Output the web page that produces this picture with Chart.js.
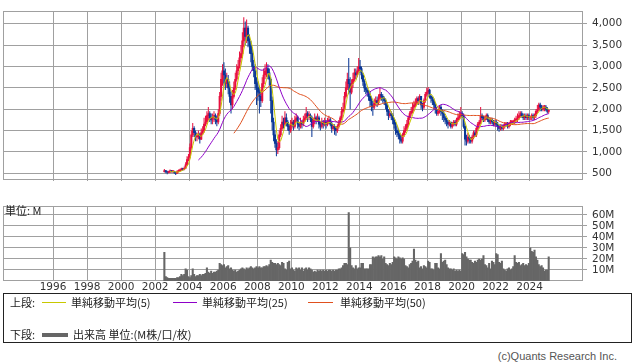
<!DOCTYPE html>
<html><head><meta charset="utf-8">
<script src="https://cdn.jsdelivr.net/npm/chart.js@4.4.1/dist/chart.umd.min.js"></script>
<style>
html,body{margin:0;padding:0;background:#fff;}
#wrap{position:relative;width:638px;height:362px;overflow:hidden;background:#fff;}
canvas{position:absolute;left:0;}
.t{position:absolute;white-space:nowrap;color:#222;font-size:11px;line-height:12px;font-family:"Noto Sans CJK JP",sans-serif;}
.ln{position:absolute;height:1px;}
</style></head>
<body><div id="wrap">
<canvas id="c1" width="638" height="192" style="top:0"></canvas>
<canvas id="c2" width="638" height="100" style="top:195px"></canvas>
<div class="t" style="left:5px;top:204px;">単位: M</div>
<div style="position:absolute;left:3px;top:293px;width:627px;height:48px;border:1px solid #222;"></div>
<div class="t" style="left:10px;top:296px;">上段:</div>
<div class="ln" id="lg5" style="left:42px;top:302px;width:24px;"></div>
<div class="t" style="left:71px;top:296px;">単純移動平均(5)</div>
<div class="ln" id="lg25" style="left:173px;top:302px;width:24px;"></div>
<div class="t" style="left:202px;top:296px;">単純移動平均(25)</div>
<div class="ln" id="lg50" style="left:308px;top:302px;width:25px;"></div>
<div class="t" style="left:340px;top:296px;">単純移動平均(50)</div>
<div class="t" style="left:10px;top:328px;">下段:</div>
<div class="ln" style="left:42px;top:333px;width:26px;height:4px;background:#666;"></div>
<div class="t" style="left:73px;top:328px;">出来高 単位:(M株/口/枚)</div>
<div class="t" style="right:21px;top:350px;color:#555;font-family:'Liberation Sans',sans-serif;">(c)Quants Research Inc.</div>
</div>
<script>
// ---- data (monthly, from 2002-07) ----
const startYear = 2002, startMonth = 7;
const open = [
 540,560,540,520,530,560,
 540,550,520,500,540,560,580,600,590,620,700,820,
 880,1100,1400,1550,1450,1350,1350,1400,1300,1450,1500,1650,
 1700,1850,1900,1800,1750,1800,1850,1750,1700,1900,2300,2700,
 2900,2800,2600,2700,2500,2300,2100,2300,2500,2700,2900,3000,
 3200,3300,3600,3900,3700,3900,3600,3500,3300,3000,2900,2600,
 2500,2400,2300,2200,2600,2800,2900,2950,2850,2700,2200,1700,
 1400,1200,1050,1100,1400,1550,1700,1650,1800,1700,1600,1500,
 1650,1700,1600,1750,1800,1650,1600,1700,1650,1750,1800,1900,
 1850,1850,1800,1600,1750,1800,1750,1800,1650,1600,1700,1650,
 1700,1650,1700,1750,1650,1550,1600,1550,1500,1600,1700,1800,
 1950,2000,2300,2500,2700,2600,2400,2600,2700,2850,2800,2900,
 3000,2950,2800,2650,2500,2450,2400,2300,2200,2100,2050,2150,
 2200,2150,2250,2350,2300,2250,2200,2100,1950,1850,1900,1850,
 1750,1650,1500,1450,1400,1300,1250,1400,1500,1550,1650,1800,
 1900,1950,2050,2100,2150,2250,2200,2300,2100,2050,2200,2350,
 2400,2450,2300,2250,2200,2100,2000,1900,1950,2050,1950,1900,
 1800,1750,1700,1650,1700,1600,1650,1700,1650,1750,1800,1850,
 1900,1850,1600,1300,1250,1350,1300,1250,1350,1450,1400,1550,
 1650,1700,1850,1800,1750,1800,1850,1750,1700,1750,1700,1650,
 1700,1650,1600,1550,1600,1550,1600,1650,1650,1600,1650,1700,
 1700,1700,1750,1750,1800,1850,1900,1850,1800,1850,1800,1850,
 1800,1800,1850,1800,1850,1950,2000,2100,2050,2000,2050,2050,
 2000,1950
];
const high = [
 600,580,560,560,590,580,
 580,560,540,570,590,610,630,630,660,760,900,950,
 1200,1500,1680,1600,1500,1450,1500,1450,1550,1600,1800,1850,
 1950,2050,1950,1900,1900,1950,1900,1850,2000,2400,2850,3050,
 3100,2950,2850,2800,2650,2400,2450,2650,2850,3050,3150,3350,
 3500,3800,4150,4050,4100,3950,3750,3600,3400,3150,3050,2750,
 2650,2550,2450,2750,2950,3050,3100,3050,2950,2750,2300,1800,
 1500,1300,1250,1500,1650,1850,1800,1950,1900,1750,1650,1750,
 1800,1750,1850,1900,1850,1700,1800,1750,1850,1900,2050,1950,
 1950,1900,1850,1800,1900,1850,1900,1850,1700,1800,1750,1800,
 1750,1800,1850,1800,1700,1650,1650,1600,1650,1750,1850,2050,
 2150,2400,2650,2850,3200,2750,2700,2850,2950,2950,3000,3200,
 3150,3000,2850,2700,2600,2500,2450,2400,2300,2200,2250,2300,
 2300,2350,2500,2400,2350,2300,2250,2150,2000,2000,1950,1900,
 1800,1700,1600,1550,1450,1400,1450,1600,1650,1750,1850,1950,
 2050,2150,2200,2250,2300,2300,2350,2300,2150,2250,2400,2500,
 2520,2480,2350,2300,2250,2150,2050,2000,2100,2100,2000,1950,
 1850,1800,1750,1750,1700,1700,1750,1750,1800,1900,1950,2050,
 1950,1900,1650,1400,1450,1400,1350,1400,1500,1500,1600,1700,
 1750,2050,1900,1850,1850,1900,1900,1800,1800,1800,1750,1750,
 1750,1700,1650,1650,1650,1650,1700,1700,1700,1700,1750,1750,
 1750,1800,1850,1900,1950,1950,1950,1900,1900,1900,1900,1900,
 1850,1900,1900,1900,2000,2100,2150,2150,2100,2100,2100,2100,
 2050,2000
];
const low = [
 520,500,480,500,510,520,
 510,490,460,490,520,540,560,560,570,600,680,780,
 850,1050,1350,1350,1250,1250,1300,1200,1280,1400,1450,1600,
 1650,1750,1700,1650,1650,1700,1650,1600,1650,1850,2200,2550,
 2600,2450,2500,2350,2150,1900,2000,2250,2450,2650,2800,2950,
 3100,3200,3450,3500,3550,3450,3300,3100,2900,2750,2450,2100,
 2200,1900,2050,2150,2500,2700,2750,2700,2550,1900,1500,1250,
 1100,900,950,1050,1350,1500,1550,1600,1600,1500,1400,1450,
 1550,1500,1550,1700,1550,1500,1550,1550,1600,1700,1750,1700,
 1750,1700,1350,1550,1650,1650,1700,1550,1500,1550,1550,1600,
 1550,1600,1650,1600,1450,1500,1400,1380,1450,1550,1650,1750,
 1900,1950,2250,2450,2350,2000,2350,2500,2650,2700,2750,2850,
 2850,2700,2550,2400,2350,2300,2200,2050,1950,1850,2000,2100,
 2050,2100,2200,2200,2150,2100,2000,1850,1750,1800,1750,1650,
 1550,1400,1350,1300,1200,1200,1200,1350,1450,1500,1600,1750,
 1850,1900,1950,2050,2100,2100,2150,2000,1950,2000,2150,2300,
 2350,2250,2150,2100,2000,1900,1850,1850,1900,1850,1750,1700,
 1650,1600,1550,1600,1550,1550,1600,1600,1600,1700,1750,1800,
 1800,1550,1150,1150,1200,1200,1200,1200,1300,1350,1350,1500,
 1600,1650,1750,1700,1700,1750,1700,1650,1650,1650,1600,1600,
 1600,1500,1470,1500,1500,1500,1550,1600,1550,1550,1600,1650,
 1650,1650,1700,1700,1750,1800,1800,1750,1750,1750,1750,1750,
 1750,1750,1750,1750,1800,1900,1950,1950,1950,1950,1950,1950,
 1900,1900
];
const close = [
 560,540,520,530,560,540,
 550,520,500,540,560,580,600,590,620,700,820,880,
 1100,1400,1550,1450,1350,1350,1400,1300,1450,1500,1650,1700,
 1850,1900,1800,1750,1800,1850,1750,1700,1900,2300,2700,2900,
 2800,2600,2700,2500,2300,2100,2300,2500,2700,2900,3000,3200,
 3300,3600,3900,3700,3900,3600,3500,3300,3000,2900,2600,2500,
 2400,2300,2200,2600,2800,2900,2950,2850,2700,2200,1700,1400,
 1200,1050,1100,1400,1550,1700,1650,1800,1700,1600,1500,1650,
 1700,1600,1750,1800,1650,1600,1700,1650,1750,1800,1900,1850,
 1850,1800,1600,1750,1800,1750,1800,1650,1600,1700,1650,1700,
 1650,1700,1750,1650,1550,1600,1550,1500,1600,1700,1800,1950,
 2000,2300,2500,2700,2600,2400,2600,2700,2850,2800,2900,3000,
 2950,2800,2650,2500,2450,2400,2300,2200,2100,2050,2150,2200,
 2150,2250,2350,2300,2250,2200,2100,1950,1850,1900,1850,1750,
 1650,1500,1450,1400,1300,1250,1400,1500,1550,1650,1800,1900,
 1950,2050,2100,2150,2250,2200,2300,2100,2050,2200,2350,2400,
 2450,2300,2250,2200,2100,2000,1900,1950,2050,1950,1900,1800,
 1750,1700,1650,1700,1600,1650,1700,1650,1750,1800,1850,1900,
 1850,1600,1300,1250,1350,1300,1250,1350,1450,1400,1550,1650,
 1700,1850,1800,1750,1800,1850,1750,1700,1750,1700,1650,1700,
 1650,1600,1550,1600,1550,1600,1650,1650,1600,1650,1700,1700,
 1700,1750,1750,1800,1850,1900,1850,1800,1850,1800,1850,1800,
 1800,1850,1800,1850,1950,2000,2100,2050,2000,2050,2050,2000,
 1950,1950
];
const volume = [
 26,4,3,2.5,2.5,2.5,
 2.5,2.5,2.5,3,3,4,6,5,6,11,10,4,
 3,5,11,6,4,5,5,6,5,6,6,7,
 12,8,7,9,7,8,8,9,10,16,15,14,
 15,12,13,14,11,12,10,9,10,8,9,10,
 11,12,11,10,12,11,12,13,12,11,12,13,
 12,13,12,12,13,13,14,13,15,19,17,16,
 16,15,16,15,14,17,16,11,10,17,18,11,
 12,10,9,12,11,12,10,12,9,11,12,10,
 12,11,10,8,9,8,10,9,10,9,10,9,
 10,9,10,10,9,10,9,10,10,11,11,12,
 14,16,16,15,62,30,14,12,11,14,11,12,
 12,16,16,11,11,11,11,15,15,22,21,22,
 22,23,22,23,20,22,16,15,14,16,15,17,
 22,21,20,22,21,20,21,20,14,13,12,15,
 16,18,29,19,17,18,12,13,11,14,13,12,
 18,17,11,11,10,16,16,12,11,25,17,18,
 19,15,12,11,11,10,11,9,10,9,10,9,
 25,24,26,22,20,19,19,17,16,18,17,19,
 20,19,20,23,15,14,12,16,11,18,17,15,
 25,24,17,16,18,11,10,9,11,12,10,11,
 13,23,17,16,17,14,15,16,14,15,14,16,
 30,27,26,28,22,19,15,13,14,12,9,10,
 10,22
];
const yearTicks = [1996,1998,2000,2002,2004,2006,2008,2010,2012,2014,2016,2018,2020,2022,2024];
const priceTicks = [500,1000,1500,2000,2500,3000,3500,4000];
const volumeTicks = [10,20,30,40,50,60];
const maPeriods = [5,25,50];
const maNames = ['単純移動平均(5)','単純移動平均(25)','単純移動平均(50)'];

// ---- styles ----
const UP = '#e8103f', DOWN = '#0a3796';
const MA_COLORS = ['#c8c800','#8e00c8','#e0501e'];
const GRID = '#a0a0a0';
const AXIS_FONT = {family:'DejaVu Sans', size:10.5};
const X_MIN = 1993.06, X_MAX = 2027.14;

document.getElementById('lg5').style.background = MA_COLORS[0];
document.getElementById('lg25').style.background = MA_COLORS[1];
document.getElementById('lg50').style.background = MA_COLORS[2];

const months = close.map((_, i) => {
  const m = startMonth - 1 + i;
  return (startYear + Math.floor(m / 12)) + '-' + String(m % 12 + 1).padStart(2, '0');
});
const xPos = months.map(s => { const [y, m] = s.split('-').map(Number); return y + (m - 0.5) / 12; });
function sma(n) {
  return close.map((_, i) => {
    if (i < n - 1) return null;
    let s = 0; for (let k = i - n + 1; k <= i; k++) s += close[k];
    return s / n;
  });
}
const candleColor = ctx => (close[ctx.dataIndex] >= open[ctx.dataIndex] ? UP : DOWN);

const frame = {
  id: 'frame',
  beforeDatasetsDraw(chart) {
    const {ctx, chartArea: a} = chart;
    ctx.save();
    ctx.strokeStyle = GRID; ctx.lineWidth = 1;
    ctx.strokeRect(Math.round(a.left) + 0.5, Math.round(a.top) + 0.5,
      Math.round(a.right - a.left) - 1, Math.round(a.bottom - a.top) - 1);
    ctx.restore();
  }
};

function xScale(showLabels, h) {
  return {
    type: 'linear', min: X_MIN, max: X_MAX, offset: false,
    afterBuildTicks: s => { s.ticks = yearTicks.map(v => ({value: v})); },
    afterFit: s => { s.height = h; },
    grid: {color: GRID, drawTicks: false, offset: false},
    border: {display: false},
    ticks: {display: showLabels, autoSkip: false, maxRotation: 0, padding: 0,
      font: AXIS_FONT, color: '#333', callback: v => String(v)}
  };
}
function yScale(min, max, ticks, fmt) {
  return {
    type: 'linear', position: 'right', min, max,
    afterBuildTicks: s => { s.ticks = ticks.map(v => ({value: v})); },
    afterFit: s => { s.width = 55; },
    grid: {color: GRID, tickLength: 4, drawTicks: true},
    border: {display: false},
    ticks: {padding: 5, autoSkip: false, font: AXIS_FONT, color: '#333', callback: fmt}
  };
}

const common = {
  responsive: false, animation: false, events: [],
  plugins: {legend: {display: false}, tooltip: {enabled: false}}
};

const maSets = maPeriods.map((n, k) => {
  const v = sma(n);
  return {
    type: 'line', label: maNames[k], order: 0,
    data: xPos.map((x, i) => ({x, y: v[i]})),
    borderColor: MA_COLORS[k], borderWidth: 1, pointRadius: 0, spanGaps: false, tension: 0
  };
});

new Chart(document.getElementById('c1'), {
  type: 'bar',
  data: {
    datasets: [
      ...maSets,
      {type: 'bar', order: 2, grouped: false, categoryPercentage: 1, barPercentage: 0.72,
       data: xPos.map((x, i) => ({x, y: [low[i], high[i]]})), backgroundColor: candleColor, borderWidth: 0},
      {type: 'bar', order: 1, grouped: false, categoryPercentage: 1, barPercentage: 1, minBarLength: 1,
       data: xPos.map((x, i) => ({x, y: [open[i], close[i]]})), backgroundColor: candleColor, borderWidth: 0}
    ]
  },
  options: Object.assign({}, common, {
    layout: {padding: {left: 3, top: 0, right: 0, bottom: 0}},
    scales: {
      x: xScale(false, 1),
      y: yScale(328, 4290, priceTicks, v => v.toLocaleString('en-US'))
    }
  }),
  plugins: [frame]
});

new Chart(document.getElementById('c2'), {
  type: 'bar',
  data: {
    datasets: [{
      label: '出来高', grouped: false, categoryPercentage: 1, barPercentage: 1,
      data: xPos.map((x, i) => ({x, y: volume[i]})), backgroundColor: '#666666', borderWidth: 0
    }]
  },
  options: Object.assign({}, common, {
    layout: {padding: {left: 3, top: 6, right: 0, bottom: 0}},
    scales: {
      x: xScale(true, 14),
      y: yScale(0, 67.8, volumeTicks, v => v + 'M')
    }
  }),
  plugins: [frame]
});
</script>
</body></html>
